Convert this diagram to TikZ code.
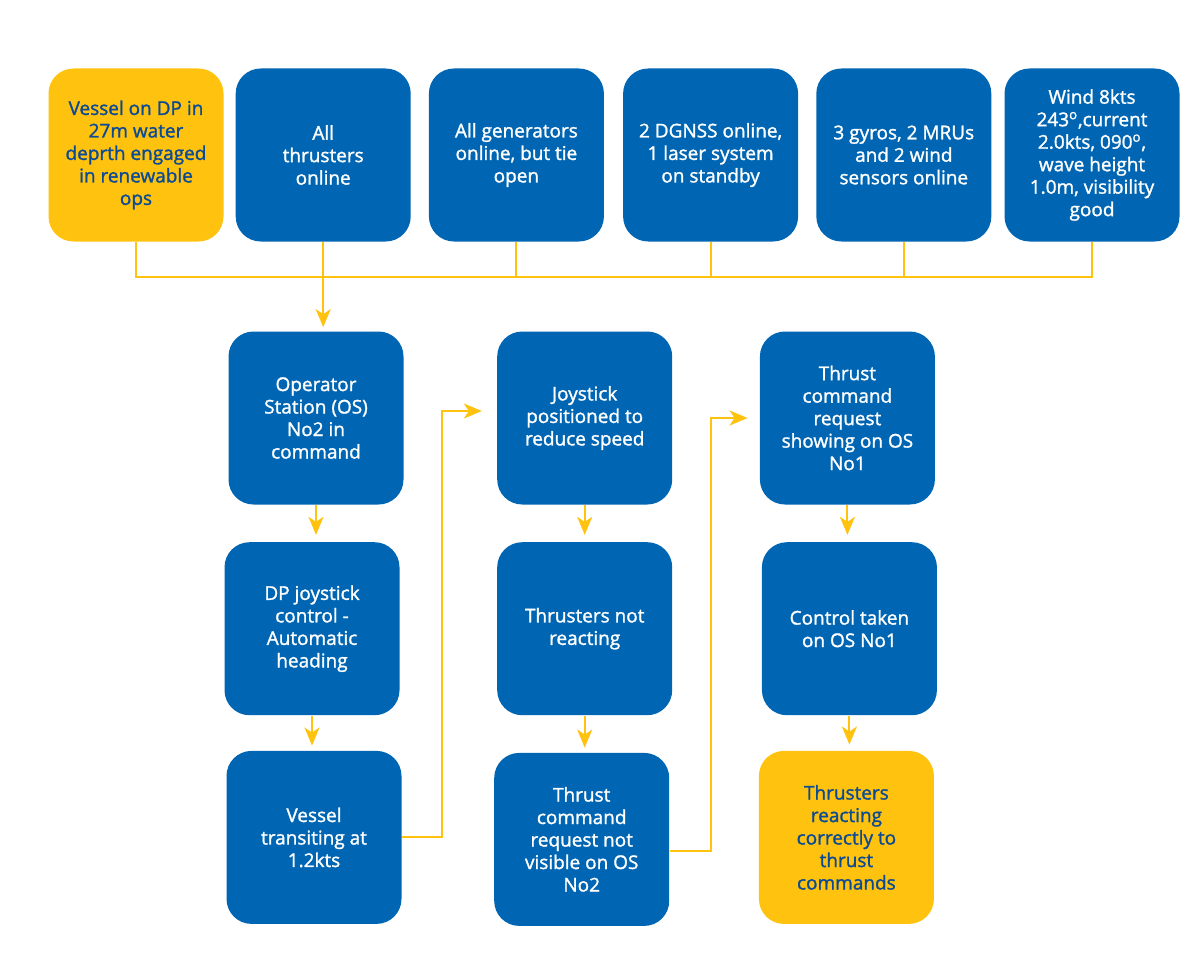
\documentclass[tikz,border=0pt]{standalone}
\usepackage{fontspec}
\setmainfont{Open Sans}[UprightFeatures={FakeBold=1.4}]
\usetikzlibrary{positioning,arrows.meta}
\definecolor{dpblue}{HTML}{0066B3}
\definecolor{dpyellow}{HTML}{FFC20E}
\definecolor{dptext}{HTML}{0B4A94}

\tikzset{
  box/.style={rounded corners=0.5cm, minimum width=3.5cm, minimum height=3.46cm,
    align=center, inner sep=0pt, font=\fontsize{10.8}{12.8}\selectfont},
  bluebox/.style={box, fill=dpblue, text=white},
  yelbox/.style={box, fill=dpyellow, text=dptext},
  link/.style={draw=dpyellow, line width=0.04cm},
  arr/.style={link, -{Stealth[length=0.36cm,width=0.3cm,inset=0.1cm]}},
}

\begin{document}
\begin{tikzpicture}
\useasboundingbox (0,0) rectangle (24,-19.2);

% Top row: situation
\node[yelbox]                      (ves)  at (2.72,-3.10) {Vessel on DP in\\27m water\\deprth engaged\\in renewable\\ops};
\node[bluebox, right=0.23cm of ves]  (thr)  {All\\thrusters\\online};
\node[bluebox, right=0.35cm of thr]  (gen)  {All generators\\online, but tie\\open};
\node[bluebox, right=0.37cm of gen]  (gnss) {2 DGNSS online,\\1 laser system\\on standby};
\node[bluebox, right=0.35cm of gnss] (sen)  {3 gyros, 2 MRUs\\and 2 wind\\sensors online};
\node[bluebox, right=0.25cm of sen]  (wea)  {Wind 8kts\\243\textsuperscript{o},current\\2.0kts, 090\textsuperscript{o},\\wave height\\1.0m, visibility\\good};

% Sequence of events
\node[bluebox] (os) at (6.32,-8.36) {Operator\\Station (OS)\\No2 in\\command};
\node[bluebox, below=0.74cm of os, xshift=-0.08cm]  (dpj) {DP joystick\\control -\\Automatic\\heading};
\node[bluebox, below=0.70cm of dpj, xshift=0.04cm] (tra) {Vessel\\transiting at\\1.2kts};

\node[bluebox, right=1.86cm of os]  (joy) {Joystick\\positioned to\\reduce speed};
\node[bluebox, below=0.74cm of joy] (nre) {Thrusters not\\reacting};
\node[bluebox, below=0.74cm of nre, xshift=-0.06cm] (tnv) {Thrust\\command\\request not\\visible on OS\\No2};

\node[bluebox, right=1.74cm of joy] (shw) {Thrust\\command\\request\\showing on OS\\No1};
\node[bluebox, below=0.74cm of shw, xshift=0.04cm] (ctl) {Control taken\\on OS No1};
\node[yelbox, below=0.70cm of ctl, xshift=-0.06cm]  (rea) {Thrusters\\reacting\\correctly to\\thrust\\commands};

% Connect the nodes
\coordinate[below=0.7cm of ves.south] (bus);
\draw[link] (ves.south) -- (bus) -| (wea.south);
\foreach \n in {gen,gnss,sen} \draw[link] (\n.south) -- (\n.south |- bus);
\draw[arr] (thr.south) -- ([yshift=0.08cm]thr.south |- os.north);

\draw[arr] (os.south) -- ([yshift=0.14cm]os.south |- dpj.north);
\draw[arr] (dpj.south) -- ([yshift=0.1cm]dpj.south |- tra.north);
\draw[arr] (tra.east) -- ++(0.8,0) |- ([xshift=-0.3cm,yshift=0.14cm]joy.west);

\draw[arr] (joy.south) -- ([yshift=0.14cm]joy.south |- nre.north);
\draw[arr] (nre.south) -- ([yshift=0.1cm]nre.south |- tnv.north);
\draw[arr] ([yshift=-0.24cm]tnv.east) -- ++(0.82,0) |- ([xshift=-0.24cm]shw.west);

\draw[arr] (shw.south) -- ([yshift=0.14cm]shw.south |- ctl.north);
\draw[arr] (ctl.south) -- ([yshift=0.12cm]ctl.south |- rea.north);

\end{tikzpicture}
\end{document}
